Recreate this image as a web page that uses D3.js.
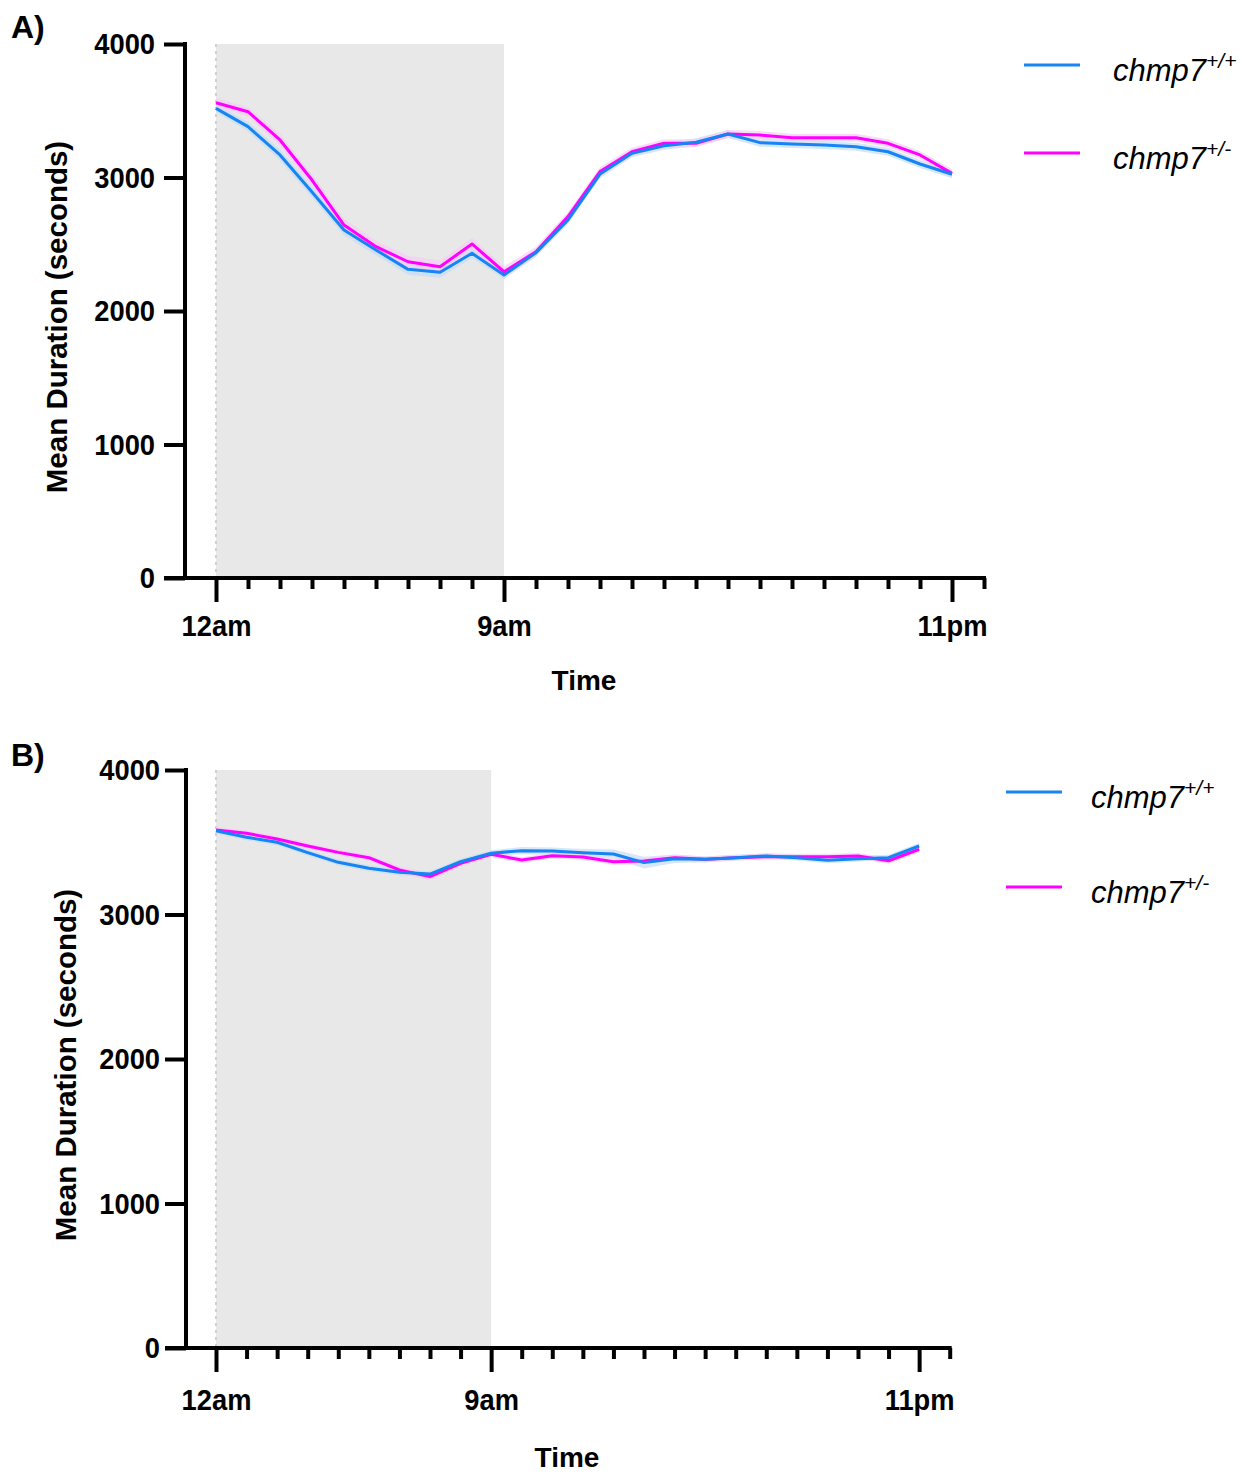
<!DOCTYPE html>
<html>
<head>
<meta charset="utf-8">
<script src="https://cdn.jsdelivr.net/npm/d3@7"></script>
<style>
  body { margin: 0; background: #fff; }
  text { font-family: "Liberation Sans", Arial, sans-serif; }
</style>
</head>
<body>
<div id="chart"></div>
<script>
// hours 0..23 (12am .. 11pm)
var hours = d3.range(0, 24);
var tickLabels = {0: "12am", 9: "9am", 23: "11pm"};
var yTicks = [0, 1000, 2000, 3000, 4000];
var seriesNames = ["+/+", "+/-"];
var colors = ["#1684F2", "#FF00FF"];

// panel A
var aWT  = [3518, 3381, 3169, 2891, 2607, 2457, 2312, 2290, 2432, 2270, 2437, 2682, 3026, 3181, 3238, 3264, 3326, 3261, 3251, 3243, 3231, 3193, 3101, 3024];
var aHet = [3560, 3493, 3281, 2981, 2644, 2482, 2369, 2332, 2502, 2294, 2444, 2707, 3044, 3193, 3256, 3256, 3326, 3318, 3298, 3298, 3298, 3256, 3169, 3031];
var aSemWT  = [30, 35, 40, 40, 40, 40, 40, 40, 35, 30, 30, 30, 30, 30, 30, 30, 30, 30, 30, 30, 30, 30, 30, 30];
var aSemHet = [35, 35, 45, 45, 45, 45, 45, 45, 45, 40, 35, 35, 35, 30, 30, 30, 30, 30, 30, 30, 30, 30, 30, 30];

// panel B
var bWT  = [3580, 3534, 3500, 3428, 3361, 3320, 3292, 3280, 3365, 3424, 3442, 3439, 3428, 3419, 3359, 3386, 3382, 3393, 3405, 3393, 3375, 3386, 3393, 3474];
var bHet = [3585, 3562, 3522, 3474, 3430, 3393, 3308, 3262, 3354, 3417, 3377, 3407, 3398, 3365, 3370, 3393, 3382, 3393, 3400, 3400, 3400, 3405, 3372, 3451];
var bSemWT  = [20, 20, 20, 20, 20, 20, 20, 20, 20, 20, 25, 25, 25, 30, 40, 30, 20, 20, 20, 20, 20, 20, 20, 20];
var bSemHet = [20, 20, 20, 20, 20, 20, 25, 25, 20, 20, 20, 20, 20, 20, 20, 20, 20, 20, 20, 20, 20, 20, 20, 20];

var svg = d3.select("#chart").append("svg")
    .attr("width", 1246)
    .attr("height", 1474);

var sx = 0.91; // tick labels are a bit narrow in the original

function panel(opt) {
  var g = svg.append("g");
  var x = d3.scaleLinear().domain([0, 24]).range([opt.x0, opt.x24]);
  var y = d3.scaleLinear().domain([0, 4000]).range([opt.yBot, opt.yTop]);

  // dark phase
  g.append("rect")
    .attr("x", x(0)).attr("y", y(4000))
    .attr("width", x(9) - x(0)).attr("height", y(0) - y(4000))
    .attr("fill", "#e8e8e8");
  g.append("line")
    .attr("x1", x(0)).attr("x2", x(0))
    .attr("y1", y(4000)).attr("y2", y(0))
    .attr("stroke", "#cfcfcf").attr("stroke-width", 2)
    .attr("stroke-dasharray", "3,4");

  var series = [opt.wt, opt.het];
  var sems = [opt.semWT, opt.semHet];

  // error bands
  series.forEach(function(s, i) {
    var area = d3.area()
      .x(function(d, j) { return x(hours[j]); })
      .y0(function(d, j) { return y(d - sems[i][j]); })
      .y1(function(d, j) { return y(d + sems[i][j]); });
    g.append("path").datum(s)
      .attr("d", area)
      .attr("fill", i == 0 ? "#c3ddf7" : "#f5cdf5")
      .attr("fill-opacity", 0.7);
  });

  // mean lines, het first so wt sits on top
  [1, 0].forEach(function(i) {
    var line = d3.line()
      .x(function(d, j) { return x(hours[j]); })
      .y(function(d) { return y(d); });
    g.append("path").datum(series[i])
      .attr("d", line)
      .attr("fill", "none")
      .attr("stroke", colors[i])
      .attr("stroke-width", 3)
      .attr("stroke-linejoin", "round");
  });

  // y axis
  var yAxis = d3.axisLeft(y).tickValues(yTicks).tickSize(21)
    .tickFormat(d3.format("d"));
  var ya = g.append("g")
    .attr("transform", "translate(" + opt.yAxisX + ",0)")
    .call(yAxis);
  ya.select(".domain").remove();
  ya.selectAll(".tick line").attr("stroke", "#000").attr("stroke-width", 4);
  ya.selectAll(".tick text")
    .attr("x", -(21 + opt.yPad) / sx)
    .attr("transform", "scale(" + sx + ",1)")
    .attr("font-size", 30).attr("font-weight", "bold").attr("fill", "#000");
  g.append("line")
    .attr("x1", opt.yAxisX).attr("x2", opt.yAxisX)
    .attr("y1", y(4000) - 2).attr("y2", y(0) + 2)
    .attr("stroke", "#000").attr("stroke-width", 4);

  // x axis
  var xAxis = d3.axisBottom(x).tickValues(d3.range(0, 25))
    .tickSize(10)
    .tickFormat(function(d) { return tickLabels[d] || ""; });
  var xa = g.append("g")
    .attr("transform", "translate(0," + y(0) + ")")
    .call(xAxis);
  xa.select(".domain").remove();
  xa.selectAll(".tick line").attr("stroke", "#000").attr("stroke-width", 4)
    .attr("y2", function(d) { return tickLabels[d] ? 24 : 11; });
  xa.selectAll(".tick text")
    .attr("y", opt.xLabY)
    .attr("transform", "scale(" + sx + ",1)")
    .attr("font-size", 30).attr("font-weight", "bold").attr("fill", "#000");
  g.append("line")
    .attr("x1", opt.yAxisX - 21).attr("x2", x(24) + 2)
    .attr("y1", y(0)).attr("y2", y(0))
    .attr("stroke", "#000").attr("stroke-width", 4);

  // titles
  g.append("text")
    .attr("transform", "translate(" + opt.yTitleX + "," + ((y(0) + y(4000)) / 2 + opt.yTitleShift) + ") rotate(-90)")
    .attr("text-anchor", "middle")
    .attr("font-size", 29.5).attr("font-weight", "bold")
    .text("Mean Duration (seconds)");
  g.append("text")
    .attr("x", opt.timeX).attr("y", opt.timeY)
    .attr("text-anchor", "middle")
    .attr("font-size", 28).attr("font-weight", "bold")
    .text("Time");
  g.append("text")
    .attr("x", 11).attr("y", opt.labelY)
    .attr("font-size", 32).attr("font-weight", "bold")
    .text(opt.label);

  // legend
  seriesNames.forEach(function(name, i) {
    var ly = opt.legY + i * opt.legGap;
    g.append("line")
      .attr("x1", opt.legX).attr("x2", opt.legX + 56)
      .attr("y1", ly).attr("y2", ly)
      .attr("stroke", colors[i]).attr("stroke-width", 3);
    var t = g.append("text")
      .attr("x", opt.legX + opt.legTx).attr("y", ly + 16)
      .attr("font-size", 31).attr("font-style", "italic");
    t.append("tspan").text("chmp7");
    t.append("tspan").attr("dy", -13).attr("font-size", 21).text(name);
  });
}

panel({
  x0: 216, x24: 984, yTop: 44, yBot: 578, yAxisX: 185, yPad: 9, xLabY: 37,
  wt: aWT, het: aHet, semWT: aSemWT, semHet: aSemHet,
  yTitleX: 67, yTitleShift: 6, timeX: 584, timeY: 690, label: "A)", labelY: 38,
  legX: 1024, legY: 65, legGap: 88, legTx: 89
});

panel({
  x0: 216, x24: 949.7, yTop: 770, yBot: 1348, yAxisX: 186, yPad: 5, xLabY: 41,
  wt: bWT, het: bHet, semWT: bSemWT, semHet: bSemHet,
  yTitleX: 76, yTitleShift: 6, timeX: 567, timeY: 1467, label: "B)", labelY: 766,
  legX: 1006, legY: 792, legGap: 95, legTx: 85
});
</script>
</body>
</html>
